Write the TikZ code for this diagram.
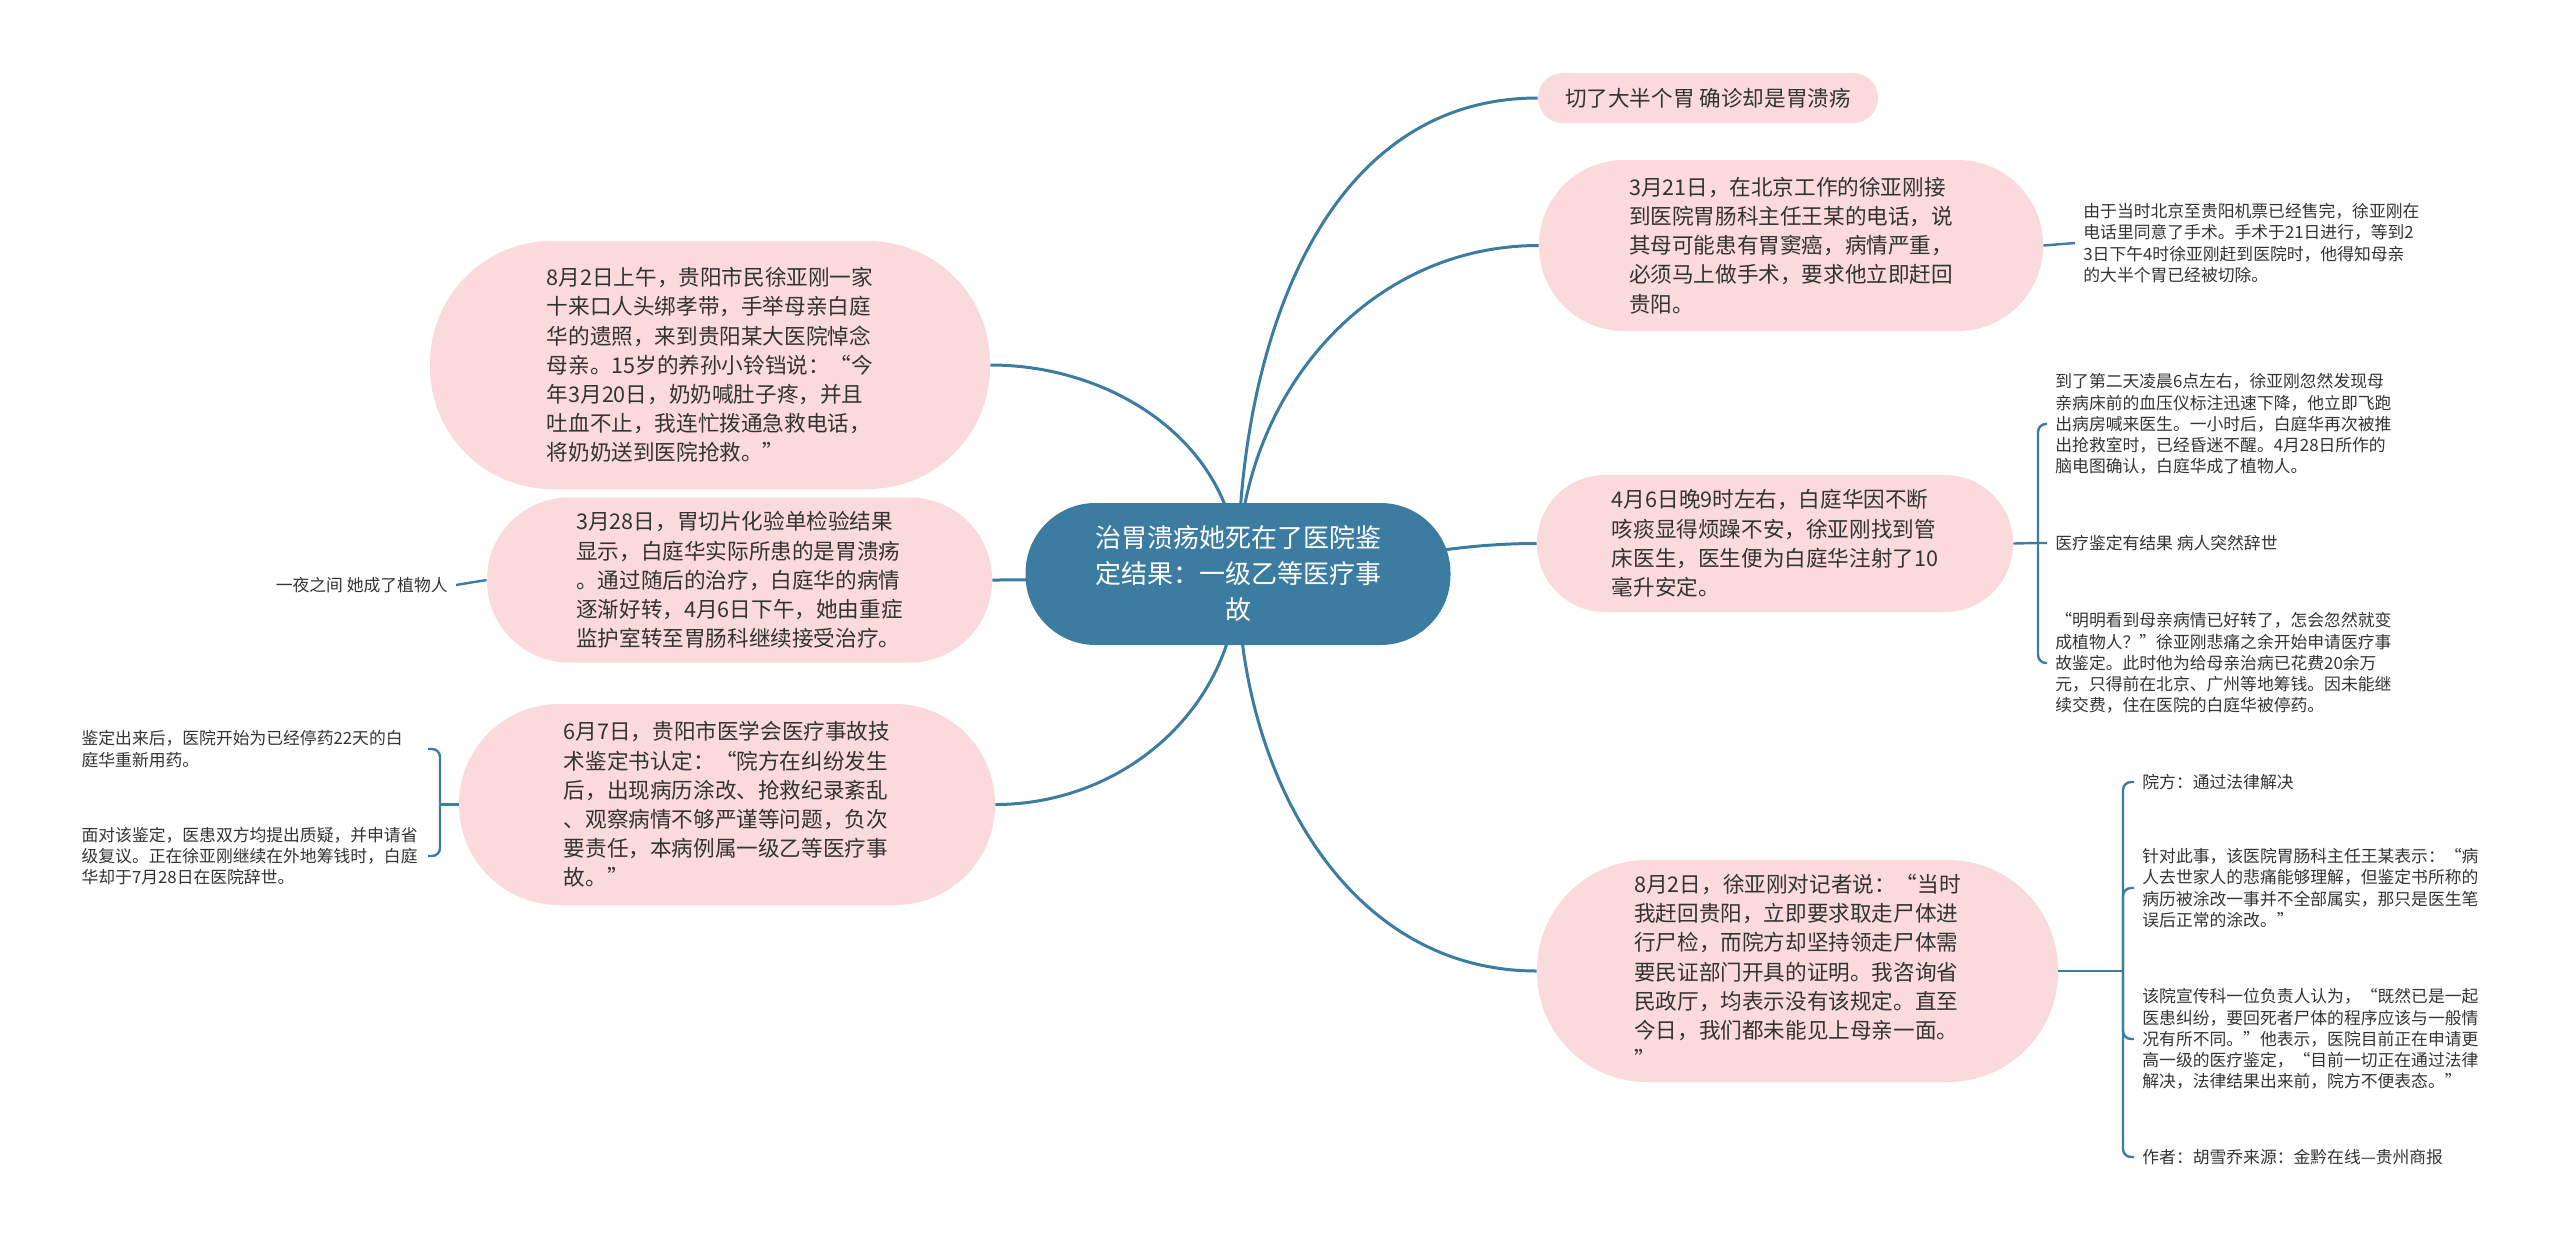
\documentclass[tikz,border=0pt]{standalone}
\usepackage{fontspec}
\setmainfont{Noto Sans CJK SC}
\usetikzlibrary{backgrounds}

\definecolor{hubblue}{RGB}{61,124,161}
\definecolor{pillpink}{RGB}{250,218,218}
\definecolor{textgray}{RGB}{51,51,51}

\tikzset{
  hub/.style={rectangle, rounded corners=35pt, fill=hubblue, text=white, align=center,
    font=\fontsize{13pt}{18pt}\selectfont, minimum width=212.5pt, minimum height=71pt, inner sep=0pt},
  pill/.style={rectangle, rounded corners=#1, fill=pillpink, text=textgray, align=left,
    font=\fontsize{10.8pt}{14.6pt}\selectfont, inner sep=0pt},
  leaf/.style={text=textgray, align=left, font=\fontsize{8.4pt}{10.6pt}\selectfont,
    inner xsep=4pt, inner ysep=0pt},
  branch/.style={draw=hubblue, line width=1.5pt},
  twig/.style={draw=hubblue, line width=1.2pt},
}

\begin{document}
\begin{tikzpicture}[x=0.5pt, y=-0.5pt]
\useasboundingbox (0,0) rectangle (2560,1249);

\node[hub] (hub) at (1238,574) {治胃溃疡她死在了医院鉴\\定结果：一级乙等医疗事\\故};

% right side
\node[pill=12.4pt, minimum width=170pt, minimum height=25pt] (r0) at (1708,98)
  {切了大半个胃 确诊却是胃溃疡};
\node[pill=42.5pt, minimum width=252pt, minimum height=85.5pt] (r1) at (1791,245.5)
  {3月21日，在北京工作的徐亚刚接\\到医院胃肠科主任王某的电话，说\\其母可能患有胃窦癌，病情严重，\\必须马上做手术，要求他立即赶回\\贵阳。};
\node[pill=34pt, minimum width=238pt, minimum height=68.5pt] (r2) at (1775,543.5)
  {4月6日晚9时左右，白庭华因不断\\咳痰显得烦躁不安，徐亚刚找到管\\床医生，医生便为白庭华注射了10\\毫升安定。};
\node[pill=55pt, minimum width=260.5pt, minimum height=111pt] (r3) at (1797.5,971)
  {8月2日，徐亚刚对记者说：“当时\\我赶回贵阳，立即要求取走尸体进\\行尸检，而院方却坚持领走尸体需\\要民证部门开具的证明。我咨询省\\民政厅，均表示没有该规定。直至\\今日，我们都未能见上母亲一面。\\”};

% left side
\node[pill=61pt, minimum width=280pt, minimum height=124pt] (l1) at (710,365)
  {8月2日上午，贵阳市民徐亚刚一家\\十来口人头绑孝带，手举母亲白庭\\华的遗照，来到贵阳某大医院悼念\\母亲。15岁的养孙小铃铛说：“今\\年3月20日，奶奶喊肚子疼，并且\\吐血不止，我连忙拨通急救电话，\\将奶奶送到医院抢救。”};
\node[pill=41pt, minimum width=252.5pt, minimum height=82.5pt] (l2) at (739.5,580)
  {3月28日，胃切片化验单检验结果\\显示，白庭华实际所患的是胃溃疡\\。通过随后的治疗，白庭华的病情\\逐渐好转，4月6日下午，她由重症\\监护室转至胃肠科继续接受治疗。};
\node[pill=50pt, minimum width=268pt, minimum height=100.5pt] (l3) at (727,804.5)
  {6月7日，贵阳市医学会医疗事故技\\术鉴定书认定：“院方在纠纷发生\\后，出现病历涂改、抢救纪录紊乱\\、观察病情不够严谨等问题，负次\\要责任，本病例属一级乙等医疗事\\故。”};

% leaves
\node[leaf, anchor=west] (r1a) at (2075,243)
  {由于当时北京至贵阳机票已经售完，徐亚刚在\\电话里同意了手术。手术于21日进行，等到2\\3日下午4时徐亚刚赶到医院时，他得知母亲\\的大半个胃已经被切除。};
\node[leaf, anchor=west] (r2a) at (2047,424)
  {到了第二天凌晨6点左右，徐亚刚忽然发现母\\亲病床前的血压仪标注迅速下降，他立即飞跑\\出病房喊来医生。一小时后，白庭华再次被推\\出抢救室时，已经昏迷不醒。4月28日所作的\\脑电图确认，白庭华成了植物人。};
\node[leaf, anchor=west] (r2b) at (2047,543) {医疗鉴定有结果 病人突然辞世};
\node[leaf, anchor=west] (r2c) at (2047,663)
  {“明明看到母亲病情已好转了，怎会忽然就变\\成植物人？”徐亚刚悲痛之余开始申请医疗事\\故鉴定。此时他为给母亲治病已花费20余万\\元，只得前在北京、广州等地筹钱。因未能继\\续交费，住在医院的白庭华被停药。};
\node[leaf, anchor=west] (r3a) at (2134,782) {院方：通过法律解决};
\node[leaf, anchor=west] (r3b) at (2134,888)
  {针对此事，该医院胃肠科主任王某表示：“病\\人去世家人的悲痛能够理解，但鉴定书所称的\\病历被涂改一事并不全部属实，那只是医生笔\\误后正常的涂改。”};
\node[leaf, anchor=west] (r3c) at (2134,1039)
  {该院宣传科一位负责人认为，“既然已是一起\\医患纠纷，要回死者尸体的程序应该与一般情\\况有所不同。”他表示，医院目前正在申请更\\高一级的医疗鉴定，“目前一切正在通过法律\\解决，法律结果出来前，院方不便表态。”};
\node[leaf, anchor=west] (r3d) at (2134,1157) {作者：胡雪乔来源：金黔在线—贵州商报};
\node[leaf, anchor=east] (l2a) at (456,585) {一夜之间 她成了植物人};
\node[leaf, anchor=east, text width=169pt] (l3a) at (428,749)
  {鉴定出来后，医院开始为已经停药22天的白\\庭华重新用药。};
\node[leaf, anchor=east, text width=169pt] (l3b) at (428,856)
  {面对该鉴定，医患双方均提出质疑，并申请省\\级复议。正在徐亚刚继续在外地筹钱时，白庭\\华却于7月28日在医院辞世。};

\coordinate (j2) at (2038,543);
\coordinate (j3) at (2123,971);
\coordinate (j6) at (440,804.5);

\begin{scope}[on background layer]
\draw[branch] (hub.center) to[out=90,in=180] (r0.west);
\draw[branch] (hub.center) to[out=90,in=180] (r1.west);
\draw[branch] (hub.center) to[out=0,in=180] (r2.west);
\draw[branch] (hub.center) to[out=-90,in=180] (r3.west);
\draw[branch] (hub.center) to[out=90,in=0] (l1.east);
\draw[branch] (hub.center) to[out=180,in=0] (l2.east);
\draw[branch] (hub.center) to[out=-90,in=0] (l3.east);
\end{scope}

\draw[twig] (r1.east) -- (r1a.west);
\draw[twig] (r2.east) -- (j2) -- (r2b.west);
\draw[twig, rounded corners=4pt] (j2) |- (r2a.west);
\draw[twig, rounded corners=4pt] (j2) |- (r2c.west);
\draw[twig] (r3.east) -- (j3);
\foreach \n in {r3a,r3b,r3c,r3d}
{
    \draw[twig, rounded corners=4pt] (j3) |- (\n.west);
}
\draw[twig] (l2.west) -- (l2a.east);
\draw[twig] (l3.west) -- (j6);
\draw[twig, rounded corners=4pt] (j6) |- (l3a.east);
\draw[twig, rounded corners=4pt] (j6) |- (l3b.east);

\end{tikzpicture}
\end{document}
